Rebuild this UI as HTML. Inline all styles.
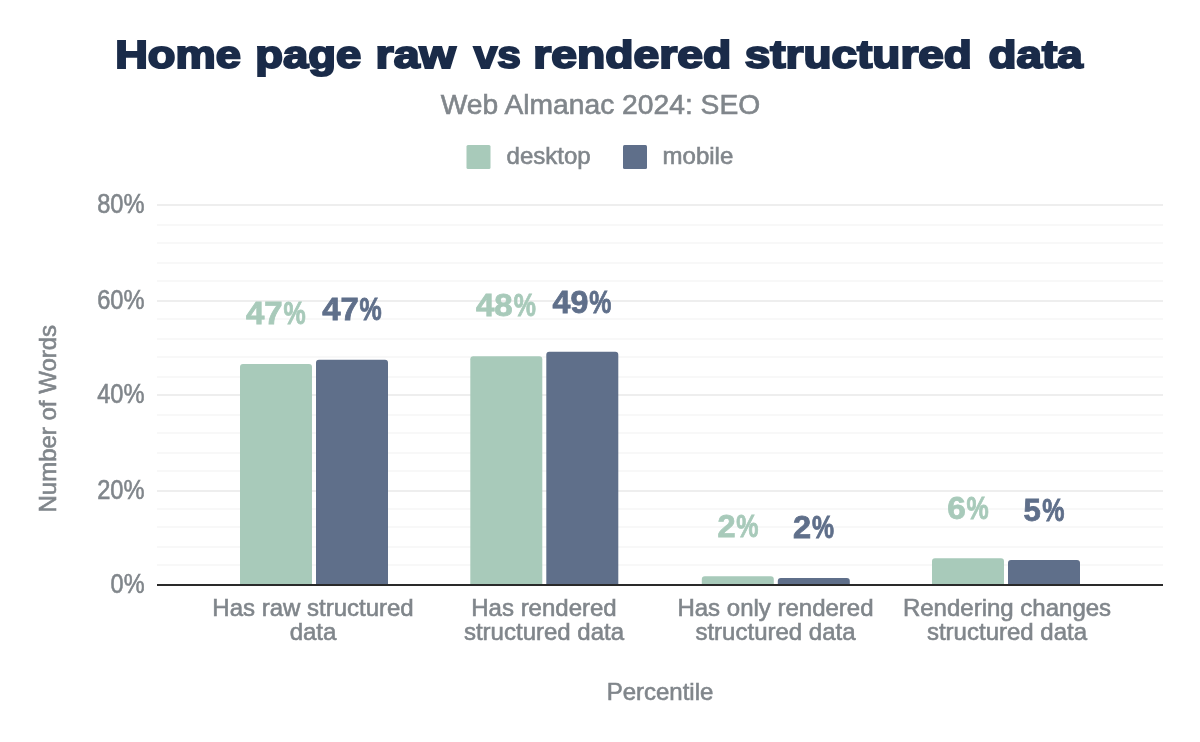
<!DOCTYPE html>
<html lang="en">
<head>
<meta charset="utf-8">
<title>Home page raw vs rendered structured data</title>
<style>
html,body{margin:0;padding:0;background:#fff;}
body{width:1200px;height:742px;overflow:hidden;}
svg{display:block;}
text{font-family:"Liberation Sans",Arial,sans-serif;}
.g{fill:#80868b;stroke:#80868b;stroke-width:0.6px;}
.t{font-family:"Liberation Sans",Arial,sans-serif;font-weight:bold;fill:#1a2b49;stroke:#1a2b49;stroke-width:2.0px;stroke-linejoin:miter;stroke-miterlimit:2.5;}
.dl{font-weight:bold;font-size:31px;stroke-width:0.8px;}
</style>
</head>
<body>
<svg width="1200" height="742" viewBox="0 0 1200 742">
<rect width="1200" height="742" fill="#ffffff"/>
<text class="t" y="67.5" font-size="38"><tspan x="115.18" textLength="125.67" lengthAdjust="spacingAndGlyphs">Home</tspan> <tspan x="255.32" textLength="105.97" lengthAdjust="spacingAndGlyphs">page</tspan> <tspan x="375.56" textLength="80.30" lengthAdjust="spacingAndGlyphs">raw</tspan> <tspan x="473.79" textLength="47.02" lengthAdjust="spacingAndGlyphs">vs</tspan> <tspan x="533.17" textLength="198.04" lengthAdjust="spacingAndGlyphs">rendered</tspan> <tspan x="744.76" textLength="227.12" lengthAdjust="spacingAndGlyphs">structured</tspan> <tspan x="988.58" textLength="94.16" lengthAdjust="spacingAndGlyphs">data</tspan> </text>
<text class="g" x="440.7" y="113.9" font-size="28" textLength="319.5" lengthAdjust="spacingAndGlyphs">Web Almanac 2024: SEO</text>
<rect x="466.5" y="145" width="24" height="24" rx="1.5" fill="#a8caba"/>
<text class="g" x="506.6" y="164" font-size="24">desktop</text>
<rect x="623" y="145" width="24" height="24" rx="1.5" fill="#5f6f8a"/>
<text class="g" x="662.6" y="164" font-size="24">mobile</text>
<rect x="157" y="204" width="1006" height="2" fill="#eeeeee"/>
<rect x="157" y="224" width="1006" height="2" fill="#f8f8f8"/>
<rect x="157" y="242" width="1006" height="2" fill="#f8f8f8"/>
<rect x="157" y="262" width="1006" height="2" fill="#f8f8f8"/>
<rect x="157" y="280" width="1006" height="2" fill="#f8f8f8"/>
<rect x="157" y="300" width="1006" height="2" fill="#eeeeee"/>
<rect x="157" y="318" width="1006" height="2" fill="#f8f8f8"/>
<rect x="157" y="338" width="1006" height="2" fill="#f8f8f8"/>
<rect x="157" y="356" width="1006" height="2" fill="#f8f8f8"/>
<rect x="157" y="376" width="1006" height="2" fill="#f8f8f8"/>
<rect x="157" y="394" width="1006" height="2" fill="#eeeeee"/>
<rect x="157" y="414" width="1006" height="2" fill="#f8f8f8"/>
<rect x="157" y="432" width="1006" height="2" fill="#f8f8f8"/>
<rect x="157" y="452" width="1006" height="2" fill="#f8f8f8"/>
<rect x="157" y="470" width="1006" height="2" fill="#f8f8f8"/>
<rect x="157" y="490" width="1006" height="2" fill="#eeeeee"/>
<rect x="157" y="508" width="1006" height="2" fill="#f8f8f8"/>
<rect x="157" y="526" width="1006" height="2" fill="#f8f8f8"/>
<rect x="157" y="546" width="1006" height="2" fill="#f8f8f8"/>
<rect x="157" y="564" width="1006" height="2" fill="#f8f8f8"/>
<text class="g" x="97.2" y="212.6" font-size="26.8" textLength="47.3" lengthAdjust="spacingAndGlyphs">80%</text>
<text class="g" x="97.2" y="308.6" font-size="26.8" textLength="47.3" lengthAdjust="spacingAndGlyphs">60%</text>
<text class="g" x="97.2" y="402.6" font-size="26.8" textLength="47.3" lengthAdjust="spacingAndGlyphs">40%</text>
<text class="g" x="97.2" y="498.6" font-size="26.8" textLength="47.3" lengthAdjust="spacingAndGlyphs">20%</text>
<text class="g" x="110.6" y="592.6" font-size="26.8" textLength="33.9" lengthAdjust="spacingAndGlyphs">0%</text>
<path d="M240.0 584.5V367.1a3 3 0 0 1 3 -3h66a3 3 0 0 1 3 3V584.5z" fill="#a8caba"/>
<text class="dl" y="324.2" fill="#a8caba" stroke="#a8caba"><tspan x="245.92" textLength="36.71" lengthAdjust="spacingAndGlyphs">47</tspan><tspan x="283.39" textLength="22.19" lengthAdjust="spacingAndGlyphs">%</tspan></text>
<path d="M316.0 584.5V362.8a3 3 0 0 1 3 -3h66a3 3 0 0 1 3 3V584.5z" fill="#5f6f8a"/>
<text class="dl" y="319.9" fill="#5f6f8a" stroke="#5f6f8a"><tspan x="322.19" textLength="36.51" lengthAdjust="spacingAndGlyphs">47</tspan><tspan x="359.45" textLength="22.20" lengthAdjust="spacingAndGlyphs">%</tspan></text>
<path d="M470.3 584.5V359.2a3 3 0 0 1 3 -3h66a3 3 0 0 1 3 3V584.5z" fill="#a8caba"/>
<text class="dl" y="316.3" fill="#a8caba" stroke="#a8caba"><tspan x="475.92" textLength="36.79" lengthAdjust="spacingAndGlyphs">48</tspan><tspan x="513.79" textLength="22.17" lengthAdjust="spacingAndGlyphs">%</tspan></text>
<path d="M546.3 584.5V354.8a3 3 0 0 1 3 -3h66a3 3 0 0 1 3 3V584.5z" fill="#5f6f8a"/>
<text class="dl" y="312.7" fill="#5f6f8a" stroke="#5f6f8a"><tspan x="552.51" textLength="35.76" lengthAdjust="spacingAndGlyphs">49</tspan><tspan x="589.35" textLength="22.11" lengthAdjust="spacingAndGlyphs">%</tspan></text>
<path d="M701.8 584.5V579.2a3 3 0 0 1 3 -3h66a3 3 0 0 1 3 3V584.5z" fill="#a8caba"/>
<text class="dl" y="537.3" fill="#a8caba" stroke="#a8caba"><tspan x="717.42" textLength="18.08" lengthAdjust="spacingAndGlyphs">2</tspan><tspan x="736.29" textLength="22.21" lengthAdjust="spacingAndGlyphs">%</tspan></text>
<path d="M777.8 584.5V581.0a3 3 0 0 1 3 -3h66a3 3 0 0 1 3 3V584.5z" fill="#5f6f8a"/>
<text class="dl" y="538.1" fill="#5f6f8a" stroke="#5f6f8a"><tspan x="793.04" textLength="18.09" lengthAdjust="spacingAndGlyphs">2</tspan><tspan x="812.04" textLength="22.04" lengthAdjust="spacingAndGlyphs">%</tspan></text>
<path d="M932.0 584.5V561.2a3 3 0 0 1 3 -3h66a3 3 0 0 1 3 3V584.5z" fill="#a8caba"/>
<text class="dl" y="519.3" fill="#a8caba" stroke="#a8caba"><tspan x="947.15" textLength="18.52" lengthAdjust="spacingAndGlyphs">6</tspan><tspan x="966.39" textLength="22.19" lengthAdjust="spacingAndGlyphs">%</tspan></text>
<path d="M1008.0 584.5V563.1a3 3 0 0 1 3 -3h66a3 3 0 0 1 3 3V584.5z" fill="#5f6f8a"/>
<text class="dl" y="521.2" fill="#5f6f8a" stroke="#5f6f8a"><tspan x="1023.61" textLength="17.29" lengthAdjust="spacingAndGlyphs">5</tspan><tspan x="1042.29" textLength="22.21" lengthAdjust="spacingAndGlyphs">%</tspan></text>
<rect x="157" y="584" width="1006" height="2" fill="#2a2a2a"/>
<text class="g" x="313.0" y="616.0" font-size="24" text-anchor="middle">Has raw structured</text>
<text class="g" x="313.0" y="640.0" font-size="24" text-anchor="middle">data</text>
<text class="g" x="544.0" y="616.0" font-size="24" text-anchor="middle">Has rendered</text>
<text class="g" x="544.0" y="640.0" font-size="24" text-anchor="middle">structured data</text>
<text class="g" x="775.5" y="616.0" font-size="24" text-anchor="middle">Has only rendered</text>
<text class="g" x="775.5" y="640.0" font-size="24" text-anchor="middle">structured data</text>
<text class="g" x="1007.0" y="616.0" font-size="24" text-anchor="middle">Rendering changes</text>
<text class="g" x="1007.0" y="640.0" font-size="24" text-anchor="middle">structured data</text>
<text class="g" x="660" y="699.7" font-size="24" text-anchor="middle">Percentile</text>
<text class="g" transform="translate(56.1 418.7) rotate(-90)" font-size="24" text-anchor="middle">Number of Words</text>
</svg>
</body>
</html>
